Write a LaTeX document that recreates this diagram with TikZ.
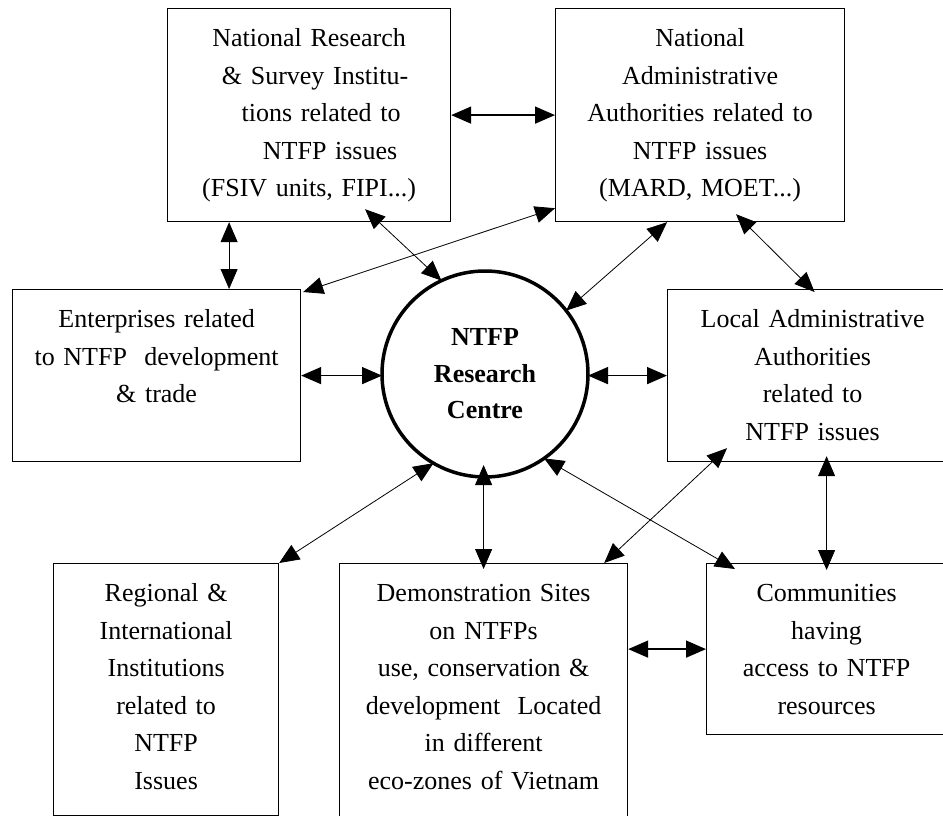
\documentclass[tikz,border=0pt]{standalone}
\usepackage{fontspec}
\setmainfont{Liberation Serif}
\usetikzlibrary{arrows.meta}

\begin{document}
\begin{tikzpicture}[
    x=1pt, y=-1pt,
    >={Triangle[length=20pt,width=17pt]},
    box/.style={draw, line width=1.2pt, anchor=north west, inner sep=0pt,
                align=center, text height=38pt,
                font=\fontsize{26pt}{37.5pt}\selectfont},
    centre/.style={draw, circle, line width=3.5pt, outer sep=0pt,
                   minimum size=206pt, align=center,
                   font=\fontsize{26pt}{36.5pt}\selectfont\bfseries},
    link/.style={<->, line width=0.8pt},
    wide link/.style={<->, line width=1.6pt}
  ]
  \useasboundingbox (0,0) rectangle (943,816);
  \clip (0,0) rectangle (943,816);

  % Centre
  \node[centre] (ntfp) at (485,374) {NTFP\\Research\\Centre};

  % Upper row
  \node[box, text width=283pt, text depth=175pt] (nr) at (167,8)
    {National Research\\
     \hspace*{12pt}\& Survey Institu-\\
     \hspace*{24pt}tions related to\\
     \hspace*{42pt}NTFP issues\\
     (FSIV units, FIPI...)};
  \node[box, text width=289pt, text depth=175pt] (na) at (555,8)
    {National\\Administrative\\Authorities related to\\NTFP issues\\(MARD, MOET...)};

  % Middle row
  \node[box, text width=288pt, text depth=134pt] (ent) at (12,289)
    {Enterprises related\\to NTFP\ \ development\\\& trade};
  \node[box, text width=290pt, text depth=134pt] (loc) at (667,289)
    {Local Administrative\\Authorities\\related to\\NTFP issues};

  % Lower row
  \node[box, text width=225pt, text depth=214pt] (reg) at (53,563)
    {Regional \&\\International\\Institutions\\related to\\NTFP\\Issues};
  \node[box, text width=288pt, text depth=232pt] (demo) at (339,563)
    {Demonstration Sites\\on NTFPs\\use, conservation \&\\development\ \ Located\\in different\\eco-zones of Vietnam};
  \node[box, text width=240pt, text depth=133pt] (com) at (706,563)
    {Communities\\having\\access to NTFP\\resources};

  % Links between boxes
  \draw[wide link] (nr.east) -- (na.west);
  \draw[link] ([xshift=-80pt]nr.south) -- ([xshift=-80pt]nr.south |- ent.north);
  \draw[link] ([yshift=14pt]na.south west) -- ([xshift=2pt,yshift=-3pt]ent.north east);
  \draw[link] ([xshift=36pt,yshift=8pt]na.south) -- ([xshift=2pt,yshift=-3pt]loc.north);
  \draw[link] ([xshift=60pt,yshift=14pt]loc.south west) -- ([xshift=-24pt]demo.north east);
  \draw[link] ([yshift=6pt]loc.south -| com.north) -- ([yshift=-7pt]com.north);
  \draw[wide link] (demo.east |- com.west) -- (com.west);

  % Links to the centre
  \draw[link] ([xshift=56pt,yshift=13pt]nr.south) -- (ntfp.115);
  \draw[link] ([xshift=-33pt]na.south) -- (ntfp.38);
  \draw[wide link] (ent.east) -- (ent.east -| ntfp.west);
  \draw[wide link] (loc.west -| ntfp.east) -- (loc.west);
  \draw[link] (ntfp.240) -- (reg.north east);
  \draw[link] ([yshift=12pt]ntfp.south -| demo.north) -- ([yshift=-6pt]demo.north);
  \draw[link] (ntfp.305) -- ([xshift=29pt,yshift=-6pt]com.north west);
\end{tikzpicture}
\end{document}
